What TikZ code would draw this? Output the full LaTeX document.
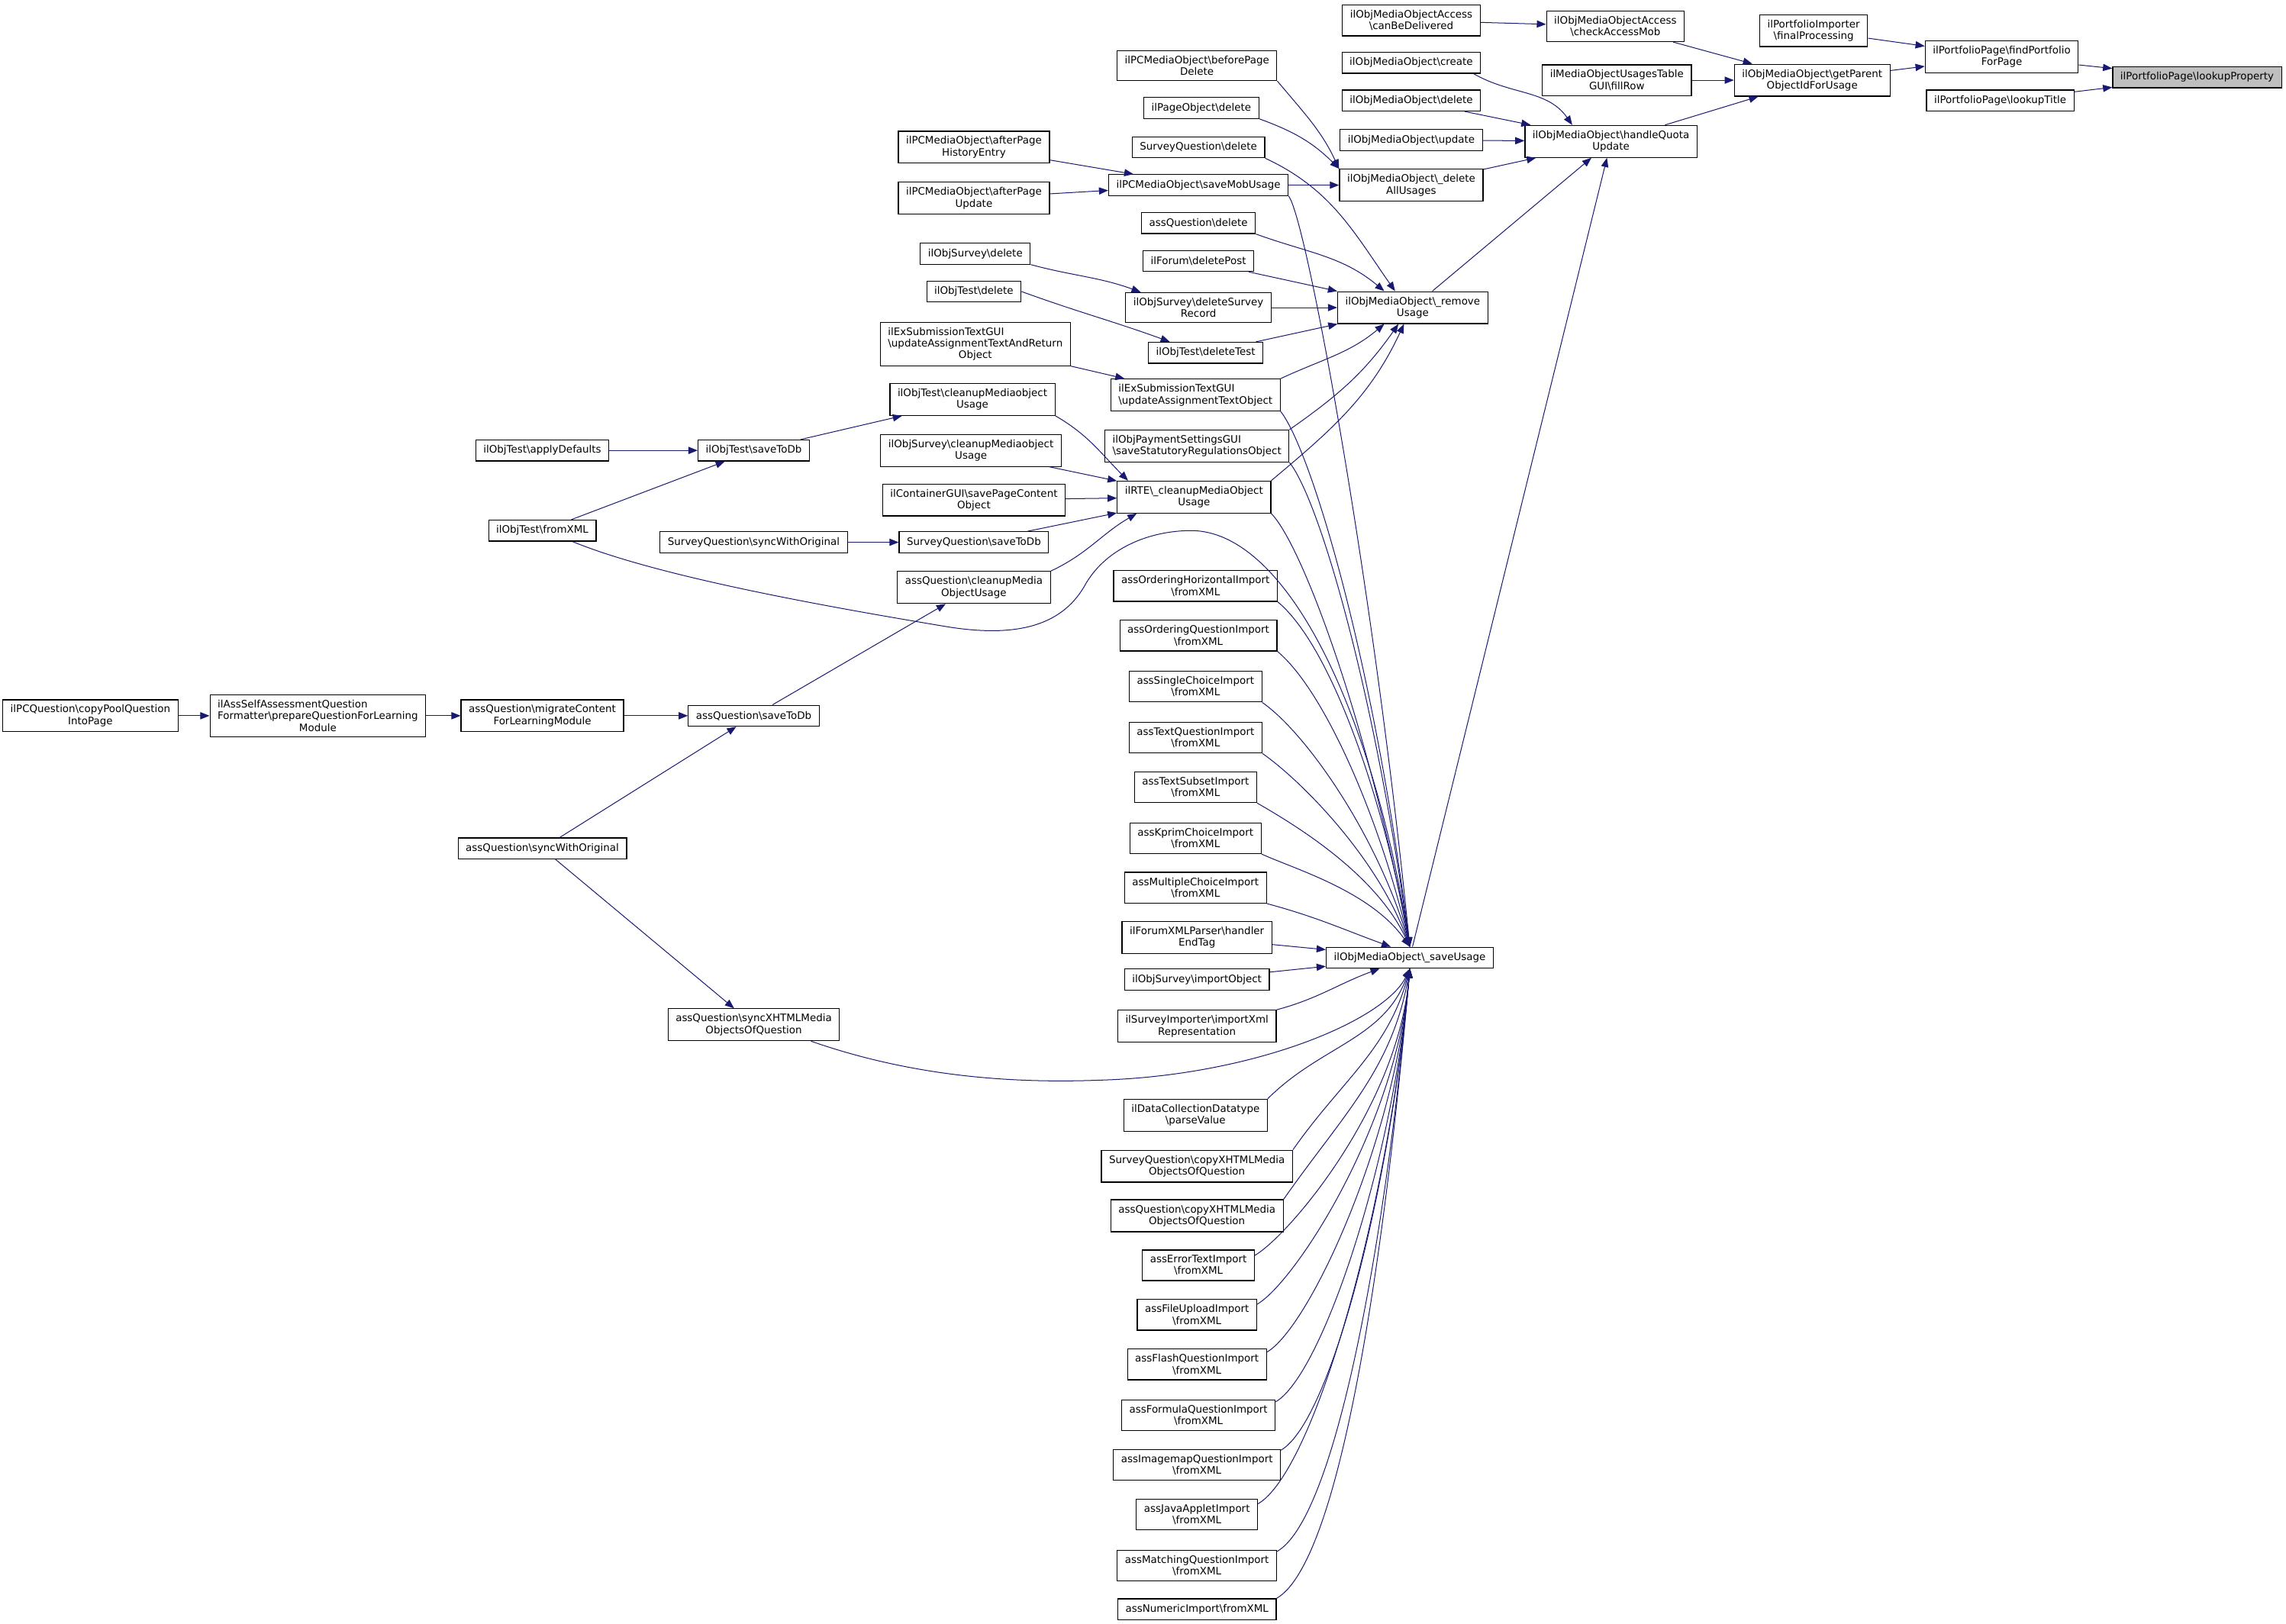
\documentclass[tikz,border=0pt]{standalone}
\usepackage{fontspec}
\setmainfont{DejaVu Sans}
\usepackage{xcolor}
\usetikzlibrary{arrows.meta}
\definecolor{callblue}{HTML}{191970}
\definecolor{hitgray}{HTML}{BFBFBF}
\newcommand{\bsl}{\textbackslash}

\begin{document}
\begin{tikzpicture}[x=0.05cm,y=-0.05cm,
  fn/.style={draw,line width=0.9pt,align=center,inner xsep=7.5pt,inner ysep=5pt,
    minimum height=20.5pt,font=\fontsize{10}{11.5}\selectfont},
  calls/.style={->,draw=callblue,line width=0.75pt},
  >={Triangle[length=9pt,width=7pt]},
  rise/.style={out=30,in=-95,out looseness=0.3,in looseness=1.1},
  drop/.style={out=-40,in=100,out looseness=0.5}]
  \useasboundingbox (0,0) rectangle (1568,1113.6);
  \node[fn,fill=hitgray] (lp) at (1507,53) {ilPortfolioPage\bsl lookupProperty};
  \node[fn] (fpp) at (1373,39) {ilPortfolioPage\bsl findPortfolio\\ForPage};
  \node[fn] (lt) at (1372,69) {ilPortfolioPage\bsl lookupTitle};
  \node[fn] (fp) at (1244,21) {ilPortfolioImporter\\\bsl finalProcessing};
  \node[fn] (gp) at (1243,55) {ilObjMediaObject\bsl getParent\\ObjectIdForUsage};
  \node[fn] (cam) at (1108,18) {ilObjMediaObjectAccess\\\bsl checkAccessMob};
  \node[fn] (fr) at (1109,55) {ilMediaObjectUsagesTable\\GUI\bsl fillRow};
  \node[fn] (hq) at (1105,97) {ilObjMediaObject\bsl handleQuota\\Update};
  \node[fn] (cbd) at (968,14) {ilObjMediaObjectAccess\\\bsl canBeDelivered};
  \node[fn] (cr) at (968,43) {ilObjMediaObject\bsl create};
  \node[fn] (del) at (968,69) {ilObjMediaObject\bsl delete};
  \node[fn] (upd) at (968,96) {ilObjMediaObject\bsl update};
  \node[fn] (dau) at (968,127) {ilObjMediaObject\bsl\_delete\\AllUsages};
  \node[fn] (ru) at (969,211) {ilObjMediaObject\bsl\_remove\\Usage};
  \node[fn] (su) at (967,657) {ilObjMediaObject\bsl\_saveUsage};

  \node[fn] (bpd) at (821,45) {ilPCMediaObject\bsl beforePage\\Delete};
  \node[fn] (pod) at (824,74) {ilPageObject\bsl delete};
  \node[fn] (sqd) at (822,101) {SurveyQuestion\bsl delete};
  \node[fn] (smu) at (822,127) {ilPCMediaObject\bsl saveMobUsage};
  \node[fn] (aqd) at (822,153) {assQuestion\bsl delete};
  \node[fn] (fdp) at (822,179) {ilForum\bsl deletePost};
  \node[fn] (dsr) at (822,211) {ilObjSurvey\bsl deleteSurvey\\Record};
  \node[fn] (dt) at (827,242) {ilObjTest\bsl deleteTest};
  \node[fn,align=left] (uato) at (820,271) {ilExSubmissionTextGUI\\\bsl updateAssignmentTextObject};
  \node[fn,align=left] (ssro) at (821,306) {ilObjPaymentSettingsGUI\\\bsl saveStatutoryRegulationsObject};
  \node[fn] (rte) at (819,341) {ilRTE\bsl\_cleanupMediaObject\\Usage};
  \node[fn] (ioh) at (820,402) {assOrderingHorizontalImport\\\bsl fromXML};
  \node[fn] (ioq) at (822,436) {assOrderingQuestionImport\\\bsl fromXML};
  \node[fn] (isc) at (820,471) {assSingleChoiceImport\\\bsl fromXML};
  \node[fn] (itq) at (820,506) {assTextQuestionImport\\\bsl fromXML};
  \node[fn] (its) at (820,540) {assTextSubsetImport\\\bsl fromXML};
  \node[fn] (ikc) at (820,575) {assKprimChoiceImport\\\bsl fromXML};
  \node[fn] (imc) at (820,609) {assMultipleChoiceImport\\\bsl fromXML};
  \node[fn] (fxp) at (821,643) {ilForumXMLParser\bsl handler\\EndTag};
  \node[fn] (osi) at (821,672) {ilObjSurvey\bsl importObject};
  \node[fn] (sia) at (821,704) {ilSurveyImporter\bsl importXml\\Representation};
  \node[fn] (dcd) at (820,765) {ilDataCollectionDatatype\\\bsl parseValue};
  \node[fn] (sqc) at (821,800) {SurveyQuestion\bsl copyXHTMLMedia\\ObjectsOfQuestion};
  \node[fn] (aqcx) at (821,834) {assQuestion\bsl copyXHTMLMedia\\ObjectsOfQuestion};
  \node[fn] (iet) at (822,868) {assErrorTextImport\\\bsl fromXML};
  \node[fn] (ifu) at (821,902) {assFileUploadImport\\\bsl fromXML};
  \node[fn] (ifl) at (821,936) {assFlashQuestionImport\\\bsl fromXML};
  \node[fn] (ifo) at (822,971) {assFormulaQuestionImport\\\bsl fromXML};
  \node[fn] (iim) at (821,1005) {assImagemapQuestionImport\\\bsl fromXML};
  \node[fn] (ija) at (821,1039) {assJavaAppletImport\\\bsl fromXML};
  \node[fn] (ima) at (821,1074) {assMatchingQuestionImport\\\bsl fromXML};
  \node[fn] (inu) at (821,1104) {assNumericImport\bsl fromXML};

  \node[fn] (aphe) at (668,101) {ilPCMediaObject\bsl afterPage\\HistoryEntry};
  \node[fn] (apu) at (668,136) {ilPCMediaObject\bsl afterPage\\Update};
  \node[fn] (osd) at (669,174) {ilObjSurvey\bsl delete};
  \node[fn] (otd) at (668,200) {ilObjTest\bsl delete};
  \node[fn] (uatro) at (669,236) {\rlap{ilExSubmissionTextGUI}\hphantom{\bsl updateAssignmentTextAndReturn}\\\bsl updateAssignmentTextAndReturn\\Object};
  \node[fn] (otc) at (667,274) {ilObjTest\bsl cleanupMediaobject\\Usage};
  \node[fn] (osc) at (666,309) {ilObjSurvey\bsl cleanupMediaobject\\Usage};
  \node[fn] (cgs) at (668,343) {ilContainerGUI\bsl savePageContent\\Object};
  \node[fn] (sqs) at (668,372) {SurveyQuestion\bsl saveToDb};
  \node[fn] (aqc) at (668,403) {assQuestion\bsl cleanupMedia\\ObjectUsage};
  \node[fn] (ots) at (517,309) {ilObjTest\bsl saveToDb};
  \node[fn] (sqsw) at (517,372) {SurveyQuestion\bsl syncWithOriginal};
  \node[fn] (aqs) at (517,491) {assQuestion\bsl saveToDb};
  \node[fn] (aqx) at (517,703) {assQuestion\bsl syncXHTMLMedia\\ObjectsOfQuestion};
  \node[fn] (otad) at (372,309) {ilObjTest\bsl applyDefaults};
  \node[fn] (otx) at (372,364) {ilObjTest\bsl fromXML};
  \node[fn] (aqm) at (372,491) {assQuestion\bsl migrateContent\\ForLearningModule};
  \node[fn] (aqsw) at (372,582) {assQuestion\bsl syncWithOriginal};
  \node[fn] (asa) at (218,491) {\rlap{ilAssSelfAssessmentQuestion}\hphantom{Formatter\bsl prepareQuestionForLearning}\\Formatter\bsl prepareQuestionForLearning\\Module};
  \node[fn] (pcq) at (62,491) {ilPCQuestion\bsl copyPoolQuestion\\IntoPage};

  \draw[calls] (fpp) -- (lp);
  \draw[calls] (lt) -- (lp);
  \draw[calls] (fp) -- (fpp);
  \draw[calls] (gp) -- (fpp);
  \draw[calls] (cam) -- (gp);
  \draw[calls] (fr) -- (gp);
  \draw[calls] (hq) -- (gp);
  \draw[calls] (cbd) -- (cam);
  \draw[calls] (cr.-10) to[out=-30,in=125] (hq.157);
  \draw[calls] (del) -- (hq);
  \draw[calls] (upd) -- (hq);
  \draw[calls] (dau) -- (hq);
  \draw[calls] (ru) -- (hq);
  \draw[calls] (su) -- (hq);

  \draw[calls] (bpd.south east) to[out=-50,in=115] (dau.north west);
  \draw[calls] (pod.south east) to[out=-20,in=135] (dau.north west);
  \draw[calls] (smu) -- (dau);
  \draw[calls] (sqd.south east) to[out=-25,in=125] (ru.137);
  \draw[calls] (aqd.south east) to[out=-20,in=140] (ru.150);
  \draw[calls] (fdp) -- (ru);
  \draw[calls] (dsr) -- (ru);
  \draw[calls] (dt) -- (ru);
  \draw[calls] (uato.north east) to[out=25,in=-140] (ru.-150);
  \draw[calls] (ssro.north east) to[out=35,in=-125] (ru.-131);
  \draw[calls] (rte.north east) to[out=40,in=-115] (ru.-118);

  \draw[calls] (smu.south east) .. controls +(12,15) and +(-25,-250) .. (su.north);
  \draw[calls] (uato.south east) .. controls +(20,25) and +(-25,-200) .. (su.north);
  \draw[calls] (ssro.south east) .. controls +(20,25) and +(-25,-180) .. (su.north);
  \draw[calls] (rte.south east) .. controls +(20,20) and +(-30,-160) .. (su.north);
  \draw[calls] (otx.-20) .. controls (450,395) and (560,415) .. (650,430)
    .. controls (700,438) and (730,428) .. (745,400)
    .. controls (760,375) and (790,364) .. (817,364)
    .. controls (880,364) and (940,480) .. (su.north);
  \draw[calls] (ioh.south east) to[drop] (su.north);
  \draw[calls] (ioq.south east) to[drop,in=103] (su.north);
  \draw[calls] (isc.south east) to[drop,out=-35,in=106] (su.north);
  \draw[calls] (itq.south east) to[drop,out=-35,in=110] (su.north);
  \draw[calls] (its.south east) to[drop,out=-30,in=115] (su.north);
  \draw[calls] (ikc.south east) to[drop,out=-25,in=125] (su.north);
  \draw[calls] (imc.south east) to[out=-15,in=160] (su.150);
  \draw[calls] (fxp) -- (su);
  \draw[calls] (osi) -- (su);
  \draw[calls] (sia.north east) to[out=15,in=-160] (su.-160);
  \draw[calls] (aqx.-16) .. controls (630,740) and (700,743) .. (754,741)
    .. controls (860,738) and (950,700) .. (su.south);
  \draw[calls] (dcd.north east) to[out=45,in=-110] (su.south);
  \draw[calls] (sqc.north east) to[out=55,in=-105] (su.south);
  \draw[calls] (aqcx.north east) to[out=55,in=-100] (su.south);
  \draw[calls] (iet.10) to[rise] (su.south);
  \draw[calls] (ifu.10) to[rise] (su.south);
  \draw[calls] (ifl.10) to[rise] (su.south);
  \draw[calls] (ifo.10) to[rise] (su.south);
  \draw[calls] (iim.10) to[rise] (su.south);
  \draw[calls] (ija.10) to[rise] (su.south);
  \draw[calls] (ima.10) to[rise] (su.south);
  \draw[calls] (inu.north east) to[rise] (su.south);

  \draw[calls] (aphe) -- (smu);
  \draw[calls] (apu) -- (smu);
  \draw[calls] (osd.south east) to[out=-15,in=160] (dsr.165);
  \draw[calls] (otd.east) to[out=-20,in=160] (dt.163);
  \draw[calls] (uatro) -- (uato);
  \draw[calls] (otc.south east) to[out=-30,in=135] (rte.166);
  \draw[calls] (osc) -- (rte);
  \draw[calls] (cgs) -- (rte);
  \draw[calls] (sqs) -- (rte);
  \draw[calls] (aqc.north east) to[out=25,in=-150] (rte.-164);
  \draw[calls] (ots) -- (otc);
  \draw[calls] (otad) -- (ots);
  \draw[calls] (otx) -- (ots);
  \draw[calls] (sqsw) -- (sqs);
  \draw[calls] (aqs) -- (aqc);
  \draw[calls] (aqm) -- (aqs);
  \draw[calls] (aqsw) -- (aqs);
  \draw[calls] (aqsw) -- (aqx);
  \draw[calls] (asa) -- (aqm);
  \draw[calls] (pcq) -- (asa);
\end{tikzpicture}
\end{document}
